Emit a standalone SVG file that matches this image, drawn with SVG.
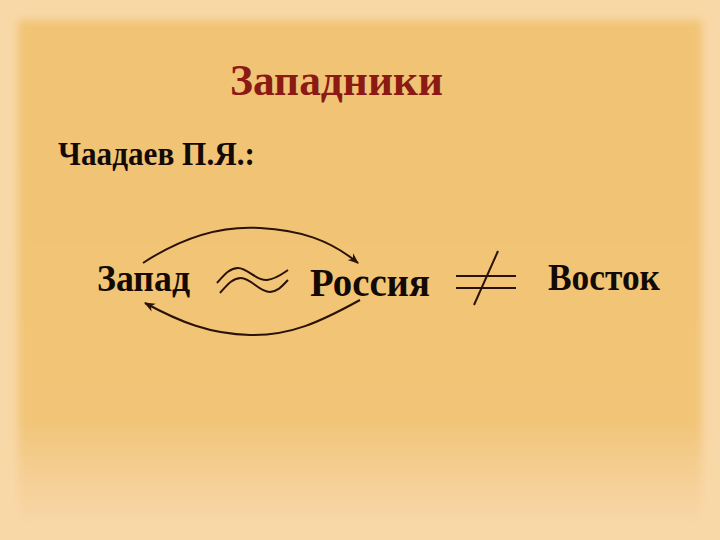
<svg xmlns="http://www.w3.org/2000/svg" width="720" height="540" viewBox="0 0 720 540">
<defs>
<linearGradient id="bg" x1="0" y1="0" x2="0" y2="1">
<stop offset="0" stop-color="#F1C374"/>
<stop offset="0.8" stop-color="#F1C477"/>
<stop offset="0.92" stop-color="#F5CF96"/>
<stop offset="1" stop-color="#F7D6A6"/>
</linearGradient>
<filter id="soft" x="-5%" y="-5%" width="110%" height="110%"><feGaussianBlur stdDeviation="4"/></filter>
<marker id="ah" viewBox="0 0 10 10" refX="9" refY="5" markerWidth="11" markerHeight="11" orient="auto" markerUnits="userSpaceOnUse">
<path d="M0,1 L10,5 L0,9 L3,5 Z" fill="#2a1208"/>
</marker>
<style>
.t{font-family:"Liberation Serif","Times New Roman",serif;font-weight:bold;fill:#140a05}
.ln{fill:none;stroke:#2a1208;stroke-width:2}
</style>
</defs>
<rect width="720" height="540" fill="#F9D8A8"/>
<rect x="18" y="20" width="684" height="500" fill="url(#bg)" filter="url(#soft)"/>
<g id="title"><text class="t" x="230" y="95" font-size="45" style="fill:#8C1A14" textLength="213" lengthAdjust="spacingAndGlyphs">Западники</text></g>
<g id="author"><text class="t" x="58" y="165" font-size="33" textLength="197" lengthAdjust="spacingAndGlyphs">Чаадаев П.Я.:</text></g>
<g id="zapad"><text class="t" x="97" y="291" font-size="37" textLength="93" lengthAdjust="spacingAndGlyphs">Запад</text></g>
<g id="approx" class="ln">
<path d="M217,283 C225,274 230,268 238,268 C248,268 256,281 267,280 C276,279 282,274 288,270"/>
<path d="M220,293 C228,284 233,278 241,278 C251,278 259,292 270,292 C279,291 283,285 288,280"/>
</g>
<g id="rossiya"><text class="t" x="310" y="296" font-size="40" textLength="120" lengthAdjust="spacingAndGlyphs">Россия</text></g>
<g id="neq" class="ln">
<line x1="456" y1="276" x2="516" y2="276"/>
<line x1="456" y1="288" x2="516" y2="288"/>
<line x1="498" y1="251" x2="474" y2="305"/>
</g>
<g id="vostok"><text class="t" x="548" y="290" font-size="37" textLength="112" lengthAdjust="spacingAndGlyphs">Восток</text></g>
<g id="connectors" class="ln">
<path d="M143,263 C190,232 230,226 260,228 C300,230 330,240 358,263" marker-end="url(#ah)"/>
<path d="M360,300 C320,322 290,336 250,335 C210,334 180,322 145,303" marker-end="url(#ah)"/>
</g>
</svg>
